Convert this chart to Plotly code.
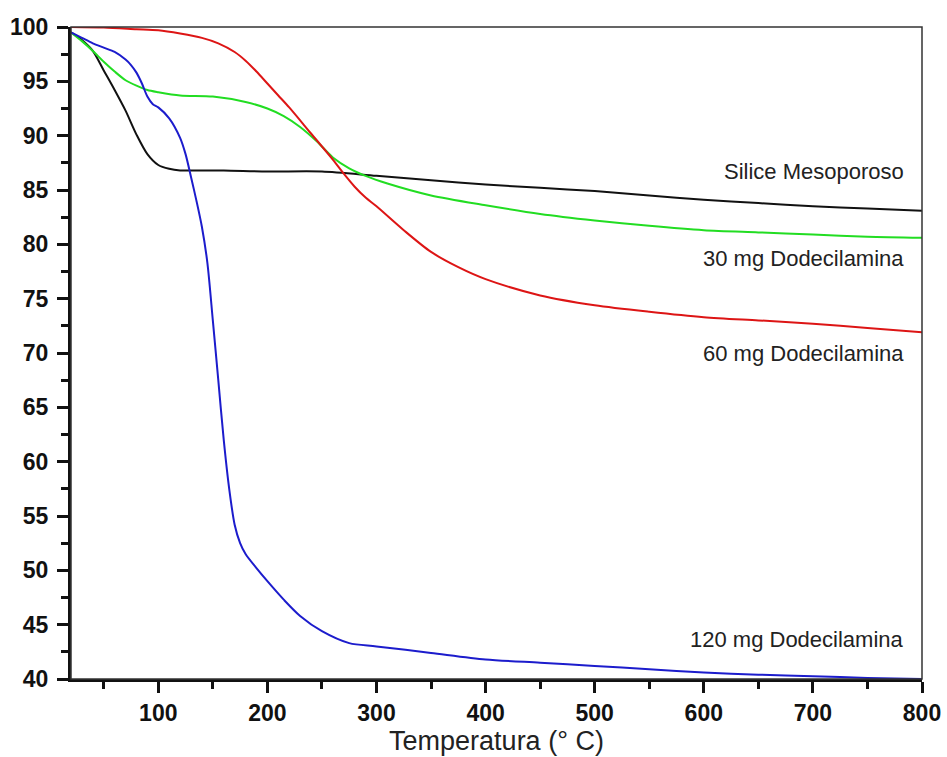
import plotly.graph_objects as go

# Thermogravimetric curves: mass (%) vs temperature (°C)
temp_silice = [20, 30, 40, 50, 60, 70, 80, 90, 100, 110, 120, 140, 160, 200, 250, 300,
               350, 400, 450, 500, 550, 600, 650, 700, 750, 800]
mass_silice = [99.5, 98.8, 97.8, 96.0, 94.2, 92.3, 90.1, 88.3, 87.3, 86.95, 86.8, 86.8,
               86.8, 86.7, 86.7, 86.3, 85.9, 85.5, 85.2, 84.9, 84.5, 84.1, 83.8, 83.5,
               83.3, 83.1]

temp_30 = [20, 30, 40, 50, 60, 70, 80, 90, 100, 120, 150, 180, 200, 215, 230, 245, 260,
           275, 290, 310, 350, 400, 450, 500, 550, 600, 650, 700, 750, 800]
mass_30 = [99.5, 98.7, 97.8, 96.8, 95.9, 95.1, 94.6, 94.2, 94.0, 93.7, 93.6, 93.1, 92.5,
           91.8, 90.8, 89.5, 88.0, 87.0, 86.3, 85.6, 84.5, 83.6, 82.8, 82.2, 81.7, 81.3,
           81.1, 80.9, 80.7, 80.6]

temp_60 = [20, 50, 80, 100, 120, 140, 155, 170, 180, 190, 200, 210, 220, 240, 260, 270,
           280, 290, 300, 325, 350, 375, 400, 450, 500, 550, 600, 650, 700, 750, 800]
mass_60 = [100.0, 99.95, 99.8, 99.7, 99.4, 99.0, 98.5, 97.7, 96.9, 95.9, 94.8, 93.7,
           92.6, 90.2, 87.8, 86.5, 85.3, 84.3, 83.5, 81.3, 79.3, 77.9, 76.8, 75.3, 74.4,
           73.8, 73.3, 73.0, 72.7, 72.3, 71.9]

temp_120 = [20, 30, 40, 50, 60, 70, 75, 80, 85, 90, 95, 100, 110, 120, 125, 130, 135, 140,
            145, 150, 155, 160, 165, 170, 175, 180, 190, 200, 215, 230, 250, 275, 300,
            350, 400, 450, 500, 550, 600, 650, 700, 750, 800]
mass_120 = [99.5, 99.0, 98.5, 98.1, 97.7, 97.0, 96.5, 95.8, 94.8, 93.6, 92.9, 92.6, 91.6,
            89.8, 88.3, 86.2, 84.0, 81.6, 78.3, 73.0, 67.5, 62.0, 57.5, 54.2, 52.5, 51.5,
            50.2, 49.0, 47.3, 45.8, 44.4, 43.3, 43.0, 42.4, 41.8, 41.5, 41.2, 40.9, 40.6,
            40.4, 40.25, 40.1, 40.0]

series = [
    ("Silice Mesoporoso", temp_silice, mass_silice, "#111111", 86.7),
    ("30 mg Dodecilamina", temp_30, mass_30, "#22dd22", 78.7),
    ("60 mg Dodecilamina", temp_60, mass_60, "#dd1515", 70.0),
    ("120 mg Dodecilamina", temp_120, mass_120, "#1c1ccc", 43.6),
]

fig = go.Figure()
for name, x, y, color, label_y in series:
    fig.add_trace(go.Scatter(x=x, y=y, mode="lines", name=name,
                             line=dict(color=color, width=2, shape="spline",
                                       smoothing=0.8)))
    fig.add_annotation(x=785, y=label_y, text=name, showarrow=False,
                       xanchor="right", yanchor="middle",
                       font=dict(family="Liberation Sans, Arial", size=22,
                                 color="#222222"))

# thin frame on top and right
fig.add_shape(type="rect", xref="paper", yref="paper", x0=0, y0=0, x1=1, y1=1,
              line=dict(color="#333333", width=1.5), layer="above")

tick_font = dict(family="Liberation Sans, Arial", size=23, color="#111111",
                 weight="bold")
fig.update_layout(
    width=947, height=757,
    margin=dict(l=71, r=25, t=27, b=78),
    paper_bgcolor="white", plot_bgcolor="white",
    showlegend=False,
    font=dict(family="Liberation Sans, Arial"),
    xaxis=dict(
        range=[20, 800], tick0=0, dtick=100, automargin=False,
        ticks="outside", ticklen=11, tickwidth=2.5, tickcolor="#111111",
        minor=dict(ticks="outside", ticklen=7, tickwidth=2.5, dtick=50, tick0=0,
                   tickcolor="#111111"),
        showline=True, linewidth=3, linecolor="#111111",
        showgrid=False, zeroline=False,
        tickfont=tick_font,
        title=dict(text="Temperatura (° C)", standoff=0,
                   font=dict(family="Liberation Sans, Arial", size=27,
                             color="#222222")),
    ),
    yaxis=dict(
        range=[40, 100], tick0=40, dtick=5, automargin=False,
        ticks="outside", ticklen=11, tickwidth=2.5, tickcolor="#111111",
        minor=dict(ticks="outside", ticklen=7, tickwidth=2.5, dtick=2.5, tick0=40,
                   tickcolor="#111111"),
        showline=True, linewidth=3, linecolor="#111111",
        showgrid=False, zeroline=False,
        tickfont=tick_font, ticklabelstandoff=4,
    ),
)

fig.write_html("out.html")
